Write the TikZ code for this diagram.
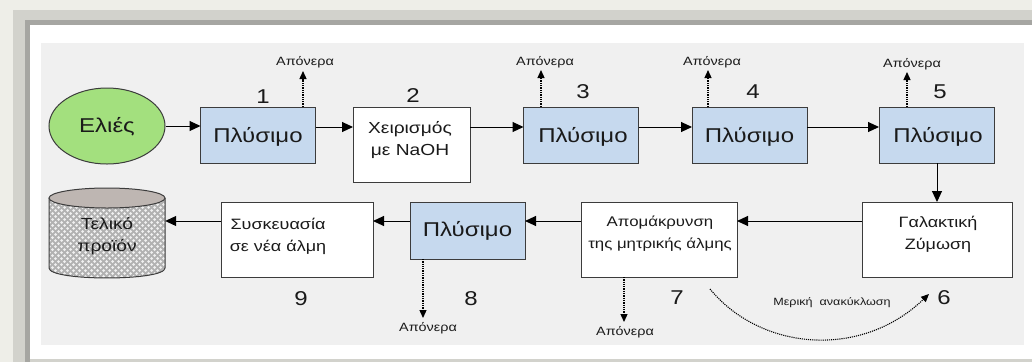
\documentclass[tikz,border=0pt]{standalone}
\usepackage{fontspec}
\setmainfont{Liberation Sans}[FakeStretch=1.2]
\usetikzlibrary{arrows.meta,patterns,calc,shapes.geometric}
\definecolor{bgcol}{HTML}{EEEEE8}
\definecolor{bandlight}{HTML}{D2D2CC}
\definecolor{banddark}{HTML}{A6A6A2}
\definecolor{panelcol}{HTML}{F0F0F0}
\definecolor{bluefill}{HTML}{C6D9EE}
\definecolor{greenfill}{HTML}{A3E07E}
\definecolor{edgecol}{HTML}{3C3C3C}
\definecolor{cyltop}{HTML}{BEB6B2}
\definecolor{cylbody}{HTML}{B2B2B2}
\definecolor{txtcol}{HTML}{1A1A1A}
\pgfdeclarepatternformonly{bigdots}{\pgfqpoint{-1bp}{-1bp}}{\pgfqpoint{7bp}{7bp}}{\pgfqpoint{6bp}{6bp}}{%
  \pgfpathcircle{\pgfqpoint{1.5bp}{1.5bp}}{1.5bp}\pgfusepath{fill}%
  \pgfpathcircle{\pgfqpoint{4.5bp}{4.5bp}}{1.5bp}\pgfusepath{fill}}
\newcommand{\fbig}{\fontsize{20bp}{22bp}\selectfont}
\newcommand{\fsz}[1]{\fontsize{#1bp}{22bp}\selectfont}
\newcommand{\fsmall}{\fontsize{12bp}{14bp}\selectfont}
\newcommand{\ftiny}{\fontsize{10.5bp}{12bp}\selectfont}
\tikzset{
  proc/.style={draw=edgecol, line width=1bp, inner sep=0pt, outer sep=0pt},
  wash/.style={proc, fill=bluefill, minimum width=115bp, minimum height=56bp},
  plainbox/.style={proc, fill=white},
  bigtxt/.style={font=\fbig, inner sep=0pt, text=txtcol},
  midtxt/.style={font=\fsz{#1}, inner sep=0pt, align=center, text=txtcol},
  numtxt/.style={font=\fbig, inner sep=0pt, text=txtcol},
  draintxt/.style={font=\fsmall, inner sep=0pt, text=txtcol},
  flow/.style={line width=1bp, -{Triangle[length=11bp,width=10bp]}},
  drain/.style={densely dotted, line width=1.3bp, -{Triangle[length=8bp,width=7bp]}},
}
\begin{document}
\begin{tikzpicture}[x=1bp,y=-1bp]
\useasboundingbox (0,0) rectangle (1032,362);
% frame
\fill[bgcol] (0,0) rectangle (1032,362);
\fill[bandlight] (13,10) rectangle (1032,362);
\fill[banddark] (25,20) rectangle (1032,362);
\fill[white] (30,25) rectangle (1032,359);
\fill[bandlight] (30,359) rectangle (1032,362);
\fill[panelcol] (41,43) rectangle (1024,345);

% top row
\node[ellipse, draw=edgecol, line width=1bp, fill=greenfill, minimum width=116bp, minimum height=76bp, inner sep=0pt] (ell) at (107,126) {};
\node[bigtxt] (ellt) at (107,127) {Ελιές};
\node[wash] (b1) at (258,135) {};
\node[bigtxt] (b1t) at (258,137) {Πλύσιμο};
\node[plainbox, minimum width=117bp, minimum height=75bp] (b2) at (411.5,144.5) {};
\node[midtxt=16] (b2t) at (410,140) {Χειρισμός\\με NaOH};
\node[wash] (b3) at (581,135) {};
\node[bigtxt] (b3t) at (583,137) {Πλύσιμο};
\node[wash] (b4) at (749.5,135) {};
\node[bigtxt] (b4t) at (749.5,137) {Πλύσιμο};
\node[wash] (b5) at (936.5,135) {};
\node[bigtxt] (b5t) at (938,137) {Πλύσιμο};

% bottom row
\node[plainbox, minimum width=150bp, minimum height=75bp] (b6) at (937,239.5) {};
\node[midtxt=15] (b6t) at (938,234) {Γαλακτική\\Ζύμωση};
\node[plainbox, minimum width=156bp, minimum height=75bp] (b7) at (659,239.5) {};
\node[midtxt=14] (b7t) at (660,234) {Απομάκρυνση\\της μητρικής άλμης};
\node[wash, minimum height=57bp] (b8) at (467.5,230.5) {};
\node[bigtxt] (b8t) at (467.5,231) {Πλύσιμο};
\node[plainbox, minimum width=152bp, minimum height=75bp] (b9) at (297,239.5) {};
\node[midtxt=15] (b9t) at (278,236) {Συσκευασία\\σε νέα άλμη};

% cylinder
\node[minimum width=116bp, minimum height=90bp, inner sep=0pt] (cyl) at (107,233) {};
\fill[cylbody] (49,198) -- (49,268) .. controls (49,281.3) and (165,281.3) .. (165,268) -- (165,198) -- cycle;
\fill[pattern=bigdots, pattern color=white!88!gray] (49,198) -- (49,268) .. controls (49,281.3) and (165,281.3) .. (165,268) -- (165,198) -- cycle;
\draw[edgecol, line width=1bp] (49,198) -- (49,268) .. controls (49,281.3) and (165,281.3) .. (165,268) -- (165,198);
\draw[edgecol, line width=1bp, fill=cyltop] (107,198) ellipse [x radius=58bp, y radius=10bp];
\node[midtxt=16] (cylt) at (107,236) {Τελικό\\προϊόν};

% flow arrows
\coordinate (row1) at (0,127);
\coordinate (row2) at (0,221);
\draw[flow] (ell.east) -- (b1.west |- ell.east);
\draw[flow] (b1.east |- row1) -- (b2.west |- row1);
\draw[flow] (b2.east |- row1) -- (b3.west |- row1);
\draw[flow] (b3.east |- row1) -- (b4.west |- row1);
\draw[flow] (b4.east |- row1) -- (b5.west |- row1);
\draw[flow] (b5.south -| 937,0) -- (b6.north -| 937,0);
\draw[flow] (b6.west |- row2) -- (b7.east |- row2);
\draw[flow] (b7.west |- row2) -- (b8.east |- row2);
\draw[flow] (b8.west |- row2) -- (b9.east |- row2);
\draw[flow] (b9.west |- row2) -- (cyl.east |- row2);

% drains
\node[draintxt] (d1) at (305,62) {Απόνερα};
\node[draintxt] (d3) at (545,62) {Απόνερα};
\node[draintxt] (d4) at (712,62) {Απόνερα};
\node[draintxt] (d5) at (912,64) {Απόνερα};
\node[draintxt] (d8) at (428,328) {Απόνερα};
\node[draintxt] (d7) at (625,332) {Απόνερα};
\draw[drain] (b1.north -| 303,0) -- (303,71);
\draw[drain] (b3.north -| 541,0) -- (541,70);
\draw[drain] (b4.north -| 708,0) -- (708,70);
\draw[drain] (b5.north -| 907,0) -- (907,72);
\draw[drain] (b8.south -| 423,0) -- (423,318);
\draw[drain] (b7.south -| 624,0) -- (624,322);

% numbers
\node[numtxt] (n1) at (263,97) {1};
\node[numtxt] (n2) at (413,96) {2};
\node[numtxt] (n3) at (583,92) {3};
\node[numtxt] (n4) at (753,92) {4};
\node[numtxt] (n5) at (940,92) {5};
\node[numtxt] (n6) at (944,298) {6};
\node[numtxt] (n7) at (677,298) {7};
\node[numtxt] (n8) at (471,299) {8};
\node[numtxt] (n9) at (301,299) {9};

% recycle
\coordinate (rs) at (710,289);
\coordinate (re) at (929,294);
\draw[drain, line width=1.1bp] (rs) .. controls (760,350) and (860,360) .. (re);
\node[font=\ftiny, inner sep=0pt, text=txtcol] (rl) at (832,303) {Μερική\ \ ανακύκλωση};
\end{tikzpicture}
\end{document}
